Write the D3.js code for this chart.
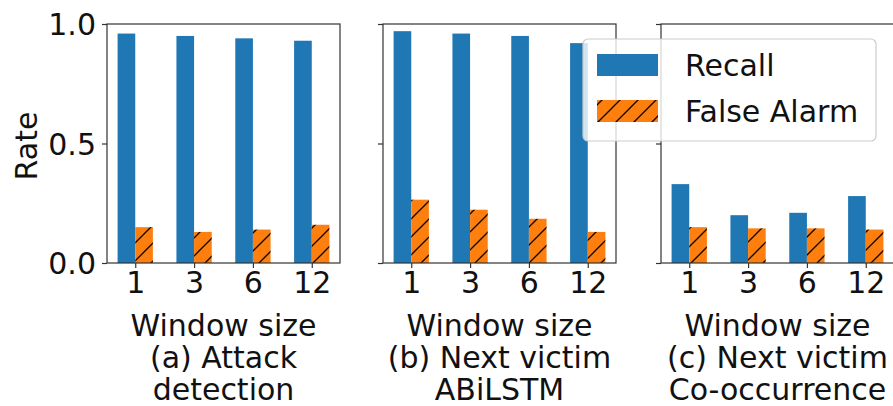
<!DOCTYPE html>
<html>
<head>
<meta charset="utf-8">
<script src="https://cdn.jsdelivr.net/npm/d3@7"></script>
<style>
  body { margin: 0; background: #fff; }
  svg { display: block; font-family: 'DejaVu Sans', sans-serif; }
  .tick text { font-size: 30px; fill: #111; }
  .label { font-size: 30px; fill: #111; }
</style>
</head>
<body>
<svg width="893" height="406"></svg>
<script>
// Chart data
let windows = ['1', '3', '6', '12'];
let yTicks = [0.0, 0.5, 1.0];
let seriesNames = ['Recall', 'False Alarm'];

let recallAttack = [0.96, 0.95, 0.94, 0.93];
let falseAttack = [0.15, 0.13, 0.14, 0.16];
let recallAbilstm = [0.97, 0.96, 0.95, 0.92];
let falseAbilstm = [0.265, 0.223, 0.185, 0.13];
let recallCooc = [0.33, 0.20, 0.21, 0.28];
let falseCooc = [0.15, 0.145, 0.145, 0.14];

let captions = [
	['Window size', '(a) Attack', 'detection'],
	['Window size', '(b) Next victim', 'ABiLSTM'],
	['Window size', '(c) Next victim', 'Co-occurrence']
];

let panels = [
	{ recall: recallAttack, fa: falseAttack, left: 107 },
	{ recall: recallAbilstm, fa: falseAbilstm, left: 383 },
	{ recall: recallCooc, fa: falseCooc, left: 661 }
];

let blue = '#1f77b4';
let orange = '#ff7f0e';
let plotTop = 24, plotBottom = 263, panelW = 233;
let barW = 0.3;

let svg = d3.select('svg');

// hatch pattern for false alarm bars
let defs = svg.append('defs');
let pat = defs.append('pattern')
	.attr('id', 'hatch')
	.attr('patternUnits', 'userSpaceOnUse')
	.attr('width', 18).attr('height', 18);
pat.append('rect').attr('width', 18).attr('height', 18).attr('fill', orange);
pat.append('path')
	.attr('d', 'M-2,20 L20,-2 M-2,2 L2,-2 M16,20 L20,16')
	.attr('stroke', '#000').attr('stroke-width', 1.3);

let yScale = d3.scaleLinear().domain([0, 1]).range([plotBottom, plotTop]);

panels.forEach(function(p, k) {
	let xScale = d3.scaleLinear().domain([-0.48, 3.48]).range([p.left, p.left + panelW]);
	let g = svg.append('g');

	// Recall bars
	g.selectAll('rect.recall').data(p.recall).enter().append('rect')
		.attr('class', 'recall')
		.attr('x', function(d, i) { return xScale(i - barW); })
		.attr('width', function() { return xScale(barW) - xScale(0); })
		.attr('y', function(d) { return yScale(d); })
		.attr('height', function(d) { return yScale(0) - yScale(d); })
		.attr('fill', blue);

	// False alarm bars
	g.selectAll('rect.fa').data(p.fa).enter().append('rect')
		.attr('class', 'fa')
		.attr('x', function(d, i) { return xScale(i); })
		.attr('width', function() { return xScale(barW) - xScale(0); })
		.attr('y', function(d) { return yScale(d); })
		.attr('height', function(d) { return yScale(0) - yScale(d); })
		.attr('fill', 'url(#hatch)');

	// frame
	g.append('rect')
		.attr('x', p.left).attr('y', plotTop)
		.attr('width', panelW).attr('height', plotBottom - plotTop)
		.attr('fill', 'none').attr('stroke', '#333').attr('stroke-width', 1.2);

	// x axis
	let xAxis = d3.axisBottom(xScale)
		.tickValues(d3.range(windows.length))
		.tickFormat(function(i) { return windows[i]; })
		.tickSize(5).tickPadding(4);
	let xa = g.append('g').attr('transform', 'translate(0,' + plotBottom + ')').call(xAxis);
	xa.select('.domain').remove();
	xa.selectAll('.tick line').attr('stroke', '#333').attr('stroke-width', 1.2);

	// y axis
	let yAxis = d3.axisLeft(yScale).tickValues(yTicks)
		.tickFormat(k === 0 ? d3.format('.1f') : function() { return ''; })
		.tickSize(5).tickPadding(6);
	let ya = g.append('g').attr('transform', 'translate(' + p.left + ',0)').call(yAxis);
	ya.select('.domain').remove();
	ya.selectAll('.tick line').attr('stroke', '#333').attr('stroke-width', 1.2);
	ya.selectAll('.tick text').attr('dy', '0.36em');

	// caption below
	let cap = g.append('text').attr('class', 'label').attr('text-anchor', 'middle');
	captions[k].forEach(function(line, j) {
		cap.append('tspan')
			.attr('x', p.left + panelW / 2)
			.attr('y', 336 + j * 32)
			.text(line);
	});
});

svg.selectAll('.tick text').attr('font-family', 'DejaVu Sans').attr('font-size', 30);

// y label
svg.append('text').attr('class', 'label')
	.attr('text-anchor', 'middle')
	.attr('transform', 'translate(37,146) rotate(-90)')
	.text('Rate');

// Legend
let lg = svg.append('g');
lg.append('rect')
	.attr('x', 583).attr('y', 39).attr('width', 293).attr('height', 102)
	.attr('rx', 5)
	.attr('fill', '#fff').attr('fill-opacity', 0.8)
	.attr('stroke', '#ccc').attr('stroke-width', 1.2);
let legFill = [blue, 'url(#hatch)'];
seriesNames.forEach(function(name, i) {
	lg.append('rect')
		.attr('x', 597).attr('y', 54 + i * 46)
		.attr('width', 61).attr('height', 22)
		.attr('fill', legFill[i]);
	lg.append('text').attr('class', 'label')
		.attr('x', 685).attr('y', 76 + i * 46)
		.text(name);
});
</script>
</body>
</html>
